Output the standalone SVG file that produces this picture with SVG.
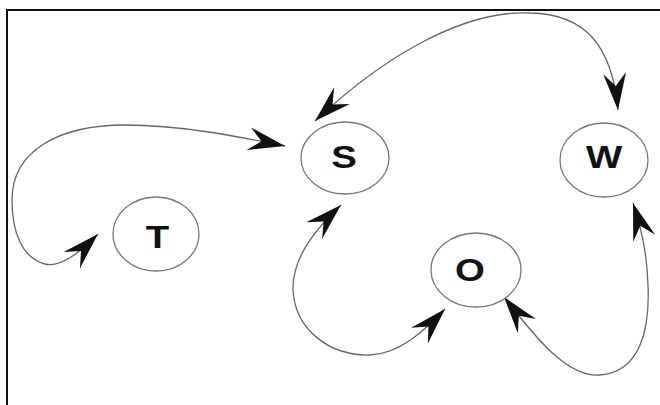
<svg xmlns="http://www.w3.org/2000/svg" width="660" height="405" viewBox="0 0 660 405">
<style>
.node ellipse{fill:#fff;stroke:#777;stroke-width:1.3}
.node text{font-family:"Liberation Sans",Arial,sans-serif;font-weight:bold;font-size:32px;text-anchor:middle;fill:#111}
.edge{fill:none;stroke:#666;stroke-width:1.3;marker-start:url(#ah);marker-end:url(#ah)}
</style>
<defs>
<marker id="ah" markerUnits="userSpaceOnUse" viewBox="-40 -14 42 28" markerWidth="42" markerHeight="28" refX="0" refY="0" orient="auto-start-reverse">
<path d="M0,0 L-37,-11.5 L-24,0 L-37,11.5 Z" fill="#111"/>
</marker>
</defs>
<rect width="660" height="405" fill="#fff"/>
<path d="M7,405 V10 H660" fill="none" stroke="#111" stroke-width="2"/>
<g id="connectors">
<path class="edge" d="M98,234 C82,250 62,268 45,264 C22,258 12,232 12,200 C12,150 60,125 125,125 C180,125 235,136 285,146"/>
<path class="edge" d="M315,121 C380,60 460,10 530,13 C585,14 612,45 618,110"/>
<path class="edge" d="M341,205 C320,225 292,255 293,290 C295,330 330,356 370,355 C400,354 425,330 445,309"/>
<path class="edge" d="M504,297 C530,330 565,378 600,375 C640,372 650,330 648,285 C647,250 640,225 633,203"/>
</g>
<g id="node-S" class="node"><ellipse cx="345" cy="158" rx="44" ry="36"/><text transform="translate(344,168) scale(1.2,1)">S</text></g>
<g id="node-W" class="node"><ellipse cx="604" cy="160" rx="44" ry="37"/><text transform="translate(604,168) scale(1.2,1)">W</text></g>
<g id="node-T" class="node"><ellipse cx="156" cy="234" rx="43" ry="37"/><text transform="translate(157.5,248) scale(1.2,1)">T</text></g>
<g id="node-O" class="node"><ellipse cx="476" cy="270" rx="45" ry="37"/><text transform="translate(470,281) scale(1.2,1)">O</text></g>
</svg>
